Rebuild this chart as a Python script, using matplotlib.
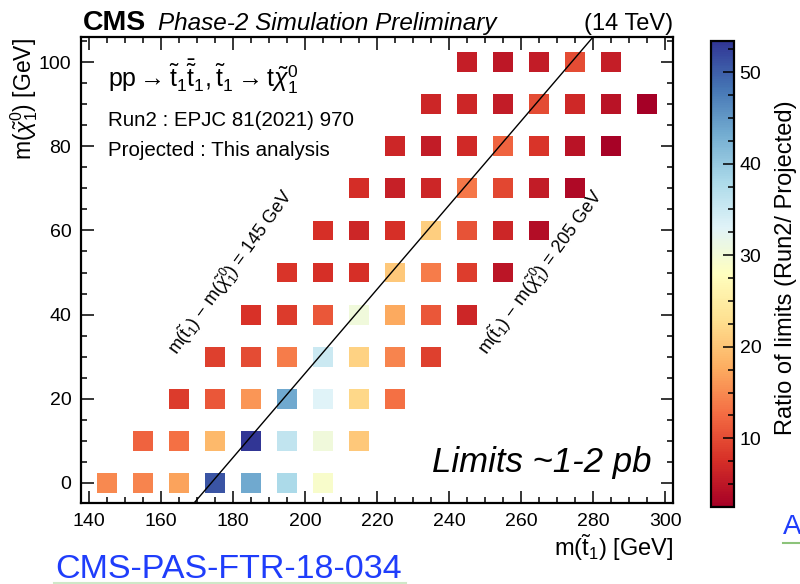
import numpy as np
import matplotlib
matplotlib.use("Agg")
import matplotlib.pyplot as plt
from matplotlib.ticker import MultipleLocator
from matplotlib.colors import Normalize

plt.rcParams['font.family'] = ['Liberation Sans', 'DejaVu Sans']
plt.rcParams['mathtext.fontset'] = 'custom'
plt.rcParams['mathtext.rm'] = 'Liberation Sans'
plt.rcParams['mathtext.it'] = 'Liberation Sans:italic'
plt.rcParams['mathtext.bf'] = 'Liberation Sans:bold'

# Grid points: (stop mass, neutralino mass) with the ratio of Run2 / projected limits
neutralino_masses = [0, 10, 20, 30, 40, 50, 60, 70, 80, 90, 100]
stop_masses = {
    0:   [145, 155, 165, 175, 185, 195, 205],
    10:  [155, 165, 175, 185, 195, 205, 215],
    20:  [165, 175, 185, 195, 205, 215, 225],
    30:  [175, 185, 195, 205, 215, 225, 235],
    40:  [185, 195, 205, 215, 225, 235, 245],
    50:  [195, 205, 215, 225, 235, 245, 255],
    60:  [205, 215, 225, 235, 245, 255, 265],
    70:  [215, 225, 235, 245, 255, 265, 275],
    80:  [225, 235, 245, 255, 265, 275, 285],
    90:  [235, 245, 255, 265, 275, 285, 295],
    100: [245, 255, 265, 275, 285],
}
ratios = {
    0:   [15.0, 14.5, 17.0, 51.0, 43.5, 38.0, 29.0],
    10:  [12.0, 13.0, 19.0, 53.4, 36.0, 30.5, 20.5],
    20:  [8.5, 11.0, 16.0, 43.5, 33.0, 22.0, 13.0],
    30:  [9.0, 10.0, 14.0, 35.0, 21.5, 14.5, 9.0],
    40:  [7.7, 8.5, 11.0, 30.5, 17.5, 11.0, 6.5],
    50:  [8.0, 7.5, 7.6, 20.5, 14.0, 8.7, 4.8],
    60:  [7.5, 6.5, 7.5, 21.0, 10.5, 6.5, 4.0],
    70:  [7.3, 6.0, 6.5, 13.5, 9.5, 5.5, 3.5],
    80:  [6.5, 5.5, 7.0, 12.0, 8.0, 4.5, 2.8],
    90:  [6.5, 6.5, 5.5, 10.0, 6.8, 4.5, 2.5],
    100: [5.8, 5.0, 5.5, 10.0, 5.8],
}
z_min, z_max = 2.5, 53.4
top_mass = 174.0

xs, ys, zs = [], [], []
for m_chi in neutralino_masses:
    for m_stop, r in zip(stop_masses[m_chi], ratios[m_chi]):
        xs.append(m_stop)
        ys.append(m_chi)
        zs.append(r)

W, H = 800, 584
fig = plt.figure(figsize=(W / 100, H / 100), dpi=100)

def fx(px):
    return px / W

def fy(py):
    return 1 - py / H

ax = fig.add_axes([fx(81), fy(503), fx(673) - fx(81), fy(37) - fy(503)])
cax = fig.add_axes([fx(711), fy(507), fx(734) - fx(711), fy(41) - fy(507)])

cmap = plt.get_cmap('RdYlBu')
norm = Normalize(vmin=z_min, vmax=z_max)
sc = ax.scatter(xs, ys, c=zs, cmap=cmap, norm=norm, marker='s', s=205,
                linewidths=0, zorder=2)

ax.set_xlim(137.8, 302.2)
ax.set_ylim(-4.8, 106.0)

# kinematic line m(stop) - m(LSP) = m(top)
line_y = np.array([-4.8, 106.0])
ax.plot(line_y + top_mass, line_y, color='black', lw=1.0, zorder=3)

ax.xaxis.set_major_locator(MultipleLocator(20))
ax.xaxis.set_minor_locator(MultipleLocator(5))
ax.yaxis.set_major_locator(MultipleLocator(20))
ax.yaxis.set_minor_locator(MultipleLocator(5))
ax.tick_params(which='both', direction='in', top=True, right=True,
               labelsize=14, width=1.1)
ax.tick_params(which='major', length=9, pad=7)
ax.tick_params(which='minor', length=4.5)
for sp in ax.spines.values():
    sp.set_linewidth(1.6)

# axis titles
fig.text(fx(673), fy(548), r'm($\tilde{\mathrm{t}}_{1}$) [GeV]', ha='right',
         va='center', fontsize=17)
fig.text(fx(24), fy(38), r'm($\tilde{\chi}_{1}^{0}$) [GeV]', ha='center',
         va='top', rotation=90, fontsize=16.5)

# header
fig.text(fx(83), fy(30), 'CMS', fontsize=20.5, fontweight='bold', ha='left',
         va='baseline')
fig.text(fx(158), fy(30), 'Phase-2 Simulation Preliminary', fontsize=17.5,
         style='italic', ha='left', va='baseline')
fig.text(fx(673), fy(30), '(14 TeV)', fontsize=17, ha='right', va='baseline')

# process and reference labels
ax.text(0.045, 0.916,
        r'pp$\rightarrow\tilde{\mathrm{t}}_{1}\bar{\tilde{\mathrm{t}}}_{1}, \tilde{\mathrm{t}}_{1}\rightarrow \mathrm{t}\tilde{\chi}_{1}^{0}$',
        transform=ax.transAxes, fontsize=18, ha='left', va='center')
ax.text(0.045, 0.82, 'Run2 : EPJC 81(2021) 970', transform=ax.transAxes,
        fontsize=14.8, ha='left', va='center')
ax.text(0.045, 0.757, 'Projected : This analysis', transform=ax.transAxes,
        fontsize=14.8, ha='left', va='center')

ax.text(179.5, 50.0,
        r'm($\tilde{\mathrm{t}}_{1}$) $-$ m($\tilde{\chi}_{1}^{0}$) = 145 GeV',
        fontsize=13, rotation=54, ha='center', va='center',
        rotation_mode='anchor')
ax.text(265.5, 50.0,
        r'm($\tilde{\mathrm{t}}_{1}$) $-$ m($\tilde{\chi}_{1}^{0}$) = 205 GeV',
        fontsize=13, rotation=54, ha='center', va='center',
        rotation_mode='anchor')

ax.text(265.8, 4.8, 'Limits ~1-2 pb', fontsize=25, style='italic',
        ha='center', va='center')

# colour scale
cb = fig.colorbar(sc, cax=cax)
cb.outline.set_linewidth(1.6)
cb.set_ticks([10, 20, 30, 40, 50])
cax.yaxis.set_minor_locator(MultipleLocator(2.5))
cax.tick_params(which='both', direction='in', right=True, labelsize=14,
                width=1.1, pad=4)
cax.tick_params(which='major', length=8)
cax.tick_params(which='minor', length=4)
fig.text(fx(786), fy(268), 'Ratio of limits (Run2/ Projected)', rotation=90,
         ha='center', va='center', fontsize=17)

# document reference
fig.text(fx(55), fy(569), 'CMS-PAS-FTR-18-034', color='#1f3dfb', fontsize=24.5,
         ha='left', va='center')
fig.lines.append(plt.Line2D([fx(54), fx(406)], [fy(583), fy(583)],
                            transform=fig.transFigure, color='#cfe8c8', lw=1.5))
fig.text(fx(783), fy(527), 'A', color='#1f3dfb', fontsize=20, ha='left',
         va='center')
fig.lines.append(plt.Line2D([fx(783), fx(800)], [fy(543), fy(543)],
                            transform=fig.transFigure, color='#8cc37a', lw=1.5))

fig.savefig('out.png', dpi=100)
